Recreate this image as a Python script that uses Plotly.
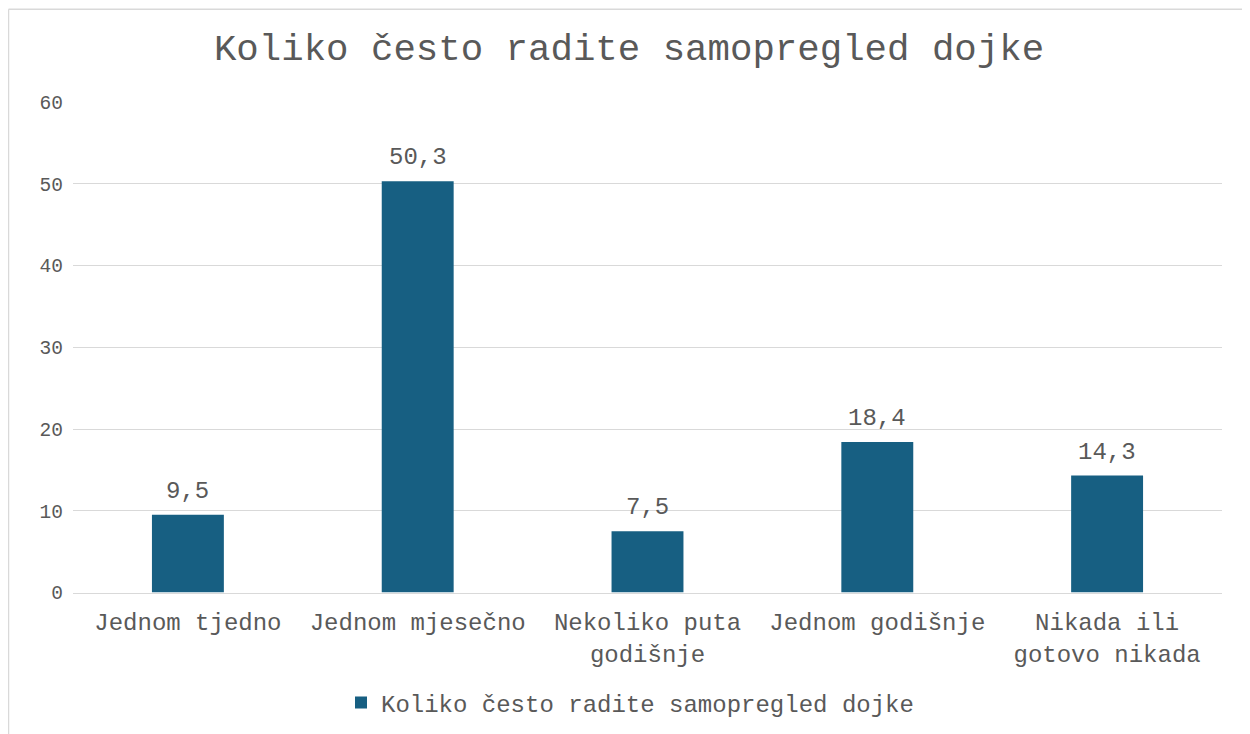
import plotly.graph_objects as go

categories = ["Jednom tjedno", "Jednom mjesečno", "Nekoliko puta<br>godišnje",
              "Jednom godišnje", "Nikada ili<br>gotovo nikada"]
values = [9.5, 50.3, 7.5, 18.4, 14.3]
series_name = "Koliko često radite samopregled dojke"
title_text = "Koliko često radite samopregled dojke"
y_ticks = [0, 10, 20, 30, 40, 50, 60]

FONT = "Liberation Mono, Courier New, monospace"
TXT = "#595959"
BAR = "#175F82"
GRID = "#D9D9D9"

# page body has an 8px margin, so the figure is placed 8px in from the top-left
OFF = 8
W, H = 1250 - OFF, 734 - OFF
L, T = 73 - OFF, 102 - OFF
R = W - (1222 - OFF)
B = H - (597 - OFF)

fig = go.Figure()
fig.add_trace(go.Bar(
    x=categories, y=values, name=series_name,
    marker=dict(color=BAR, line=dict(width=0)),
))

for c, v in zip(categories, values):
    fig.add_annotation(x=c, y=v, text=f"{v:.1f}".replace(".", ","),
                       showarrow=False, yanchor="bottom", yshift=8,
                       font=dict(family=FONT, size=24, color=TXT))

pw = W - L - R
ph = H - T - B
# chart-area border (left and top edges) in paper coordinates
bx = (0.5 - L) / pw
by = (H - B - 0.5) / ph
fig.update_layout(
    width=W, height=H,
    margin=dict(l=L, r=R, t=T, b=B, pad=0),
    paper_bgcolor="white", plot_bgcolor="white",
    font=dict(family=FONT, size=24, color=TXT),
    title=dict(text=title_text, x=(629 - OFF) / W, xref="container", xanchor="center",
               y=1 - (47 - OFF) / H, yref="container", yanchor="middle",
               font=dict(family=FONT, size=37.4, color=TXT)),
    bargap=0.687,
    showlegend=True,
    legend=dict(orientation="h", x=(630 - OFF) / W, xref="container", xanchor="center",
                y=1 - (703 - OFF) / H, yref="container", yanchor="middle",
                font=dict(family=FONT, size=24, color=TXT),
                itemwidth=30, traceorder="normal"),
    xaxis=dict(showgrid=False, showline=True, linecolor=GRID, linewidth=1,
               ticks="", ticklabelstandoff=8,
               tickfont=dict(family=FONT, size=24, color=TXT)),
    yaxis=dict(range=[0, 60], tickvals=y_ticks, showgrid=True, gridcolor=GRID,
               gridwidth=1, zeroline=False, showline=False, ticks="",
               ticklabelstandoff=9,
               tickfont=dict(family=FONT, size=19.5, color=TXT)),
    shapes=[
        dict(type="line", xref="paper", yref="paper", x0=bx, x1=bx, y0=-1, y1=by,
             line=dict(color=GRID, width=1.5), layer="below"),
        dict(type="line", xref="paper", yref="paper", x0=bx, x1=2, y0=by, y1=by,
             line=dict(color=GRID, width=1.5), layer="below"),
    ],
)

fig.write_html("out.html")
